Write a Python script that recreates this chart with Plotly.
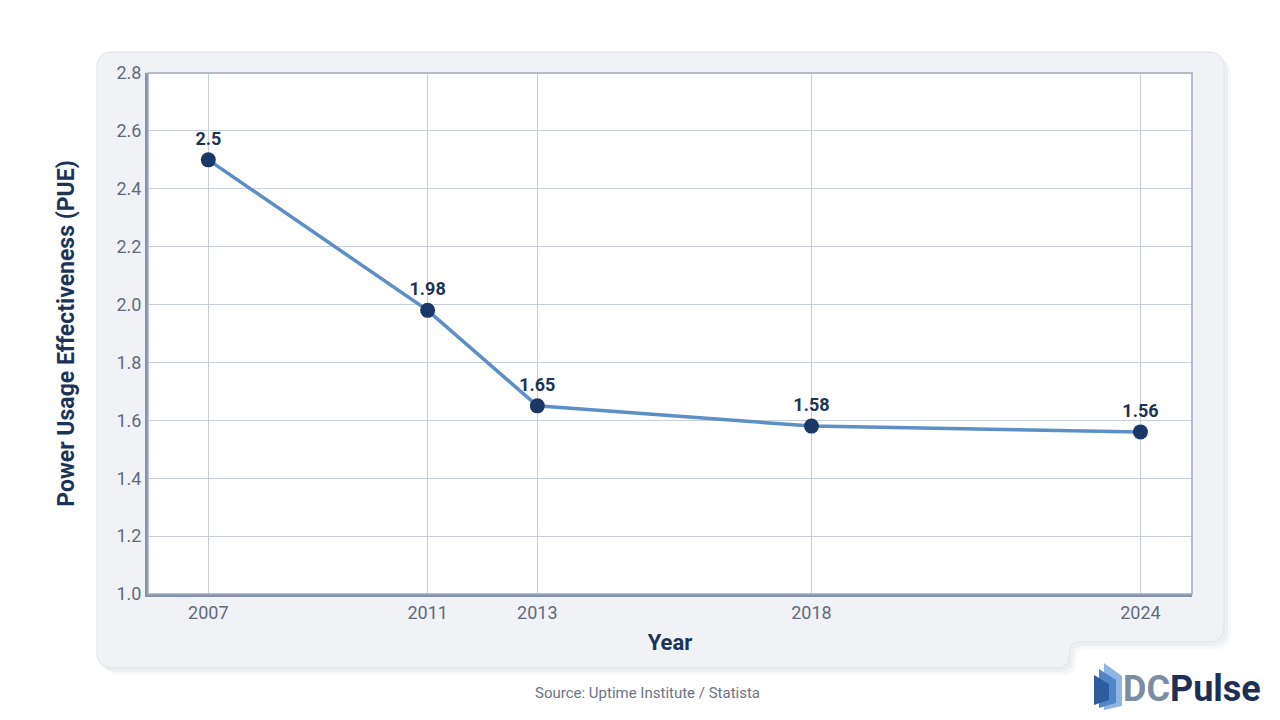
import math
import plotly.graph_objects as go

years = [2007, 2011, 2013, 2018, 2024]
pue = [2.5, 1.98, 1.65, 1.58, 1.56]
labels = ["2.5", "1.98", "1.65", "1.58", "1.56"]
y_ticks = [1.0, 1.2, 1.4, 1.6, 1.8, 2.0, 2.2, 2.4, 2.6, 2.8]

W, H = 1280, 720
L, R, T, B = 148, 1192, 73, 594

def px(x):
    return (x - L) / (R - L)

def py(y):
    return (B - y) / (B - T)

def path(points, close=True):
    s = "M " + " L ".join(f"{px(x):.5f},{py(y):.5f}" for x, y in points)
    return s + (" Z" if close else "")

def card_path(dx=0, dy=0):
    r = 14
    pts = []
    def arc(cx, cy, a0, a1, rad=r, n=8):
        out = []
        for i in range(n + 1):
            a = math.radians(a0 + (a1 - a0) * i / n)
            out.append((cx + rad * math.cos(a) + dx, cy + rad * math.sin(a) + dy))
        return out
    pts += arc(97 + r, 52 + r, 180, 270)
    pts += arc(1224 - r, 52 + r, 270, 360)
    pts += arc(1224 - r, 642 - r, 0, 90)
    pts += [(1095 + dx, 642 + dy)]
    pts += arc(1080, 655, 270, 225, rad=13, n=4)
    pts += [(1068 + dx, 664 + dy)]
    pts += arc(1058, 668 - 10, 45, 90, rad=10, n=4)
    pts += arc(97 + r, 668 - r, 90, 180)
    return path(pts)

fig = go.Figure()
fig.add_trace(go.Scatter(
    x=years, y=pue, mode="lines+markers+text",
    text=labels, textposition="top center",
    textfont=dict(family="Roboto", size=18, color="#1c3357", weight="bold"),
    line=dict(color="#5b8fc6", width=3.5),
    marker=dict(color="#1a3866", size=15),
    hoverinfo="skip", cliponaxis=False,
))

shapes = []
for op, off in [(0.04, 7), (0.05, 4)]:
    shapes.append(dict(type="path", xref="paper", yref="paper", path=card_path(off, off),
                       fillcolor=f"rgba(60,70,90,{op})", line=dict(width=0), layer="below"))
shapes.append(dict(type="path", xref="paper", yref="paper", path=card_path(),
                   fillcolor="#f1f2f5", line=dict(color="#dfe2e8", width=1), layer="below"))
# white plot area
shapes.append(dict(type="rect", xref="paper", yref="paper", x0=0, x1=1, y0=0, y1=1,
                   fillcolor="#ffffff", line=dict(width=0), layer="below"))
# plot border top/right
shapes.append(dict(type="rect", xref="paper", yref="paper", x0=0, x1=1, y0=0, y1=1,
                   line=dict(color="#9eabbf", width=1.5), layer="above"))
# logo icon
shapes.append(dict(type="path", xref="paper", yref="paper",
                   path=path([(1104, 663), (1122, 676), (1122, 706), (1104, 710)]),
                   fillcolor="#8fb6e2", line=dict(width=0), layer="above"))
shapes.append(dict(type="path", xref="paper", yref="paper",
                   path=path([(1099, 669), (1116, 680), (1116, 703), (1099, 708)]),
                   fillcolor="#4f86c8", line=dict(width=0), layer="above"))
shapes.append(dict(type="path", xref="paper", yref="paper",
                   path=path([(1094, 675), (1109, 684), (1109, 700), (1094, 705)]),
                   fillcolor="#2d5d9e", line=dict(width=0), layer="above"))

annotations = [
    dict(text="Source: Uptime Institute / Statista", xref="paper", yref="paper",
         x=px(647), y=py(693), xanchor="center", yanchor="middle", showarrow=False,
         font=dict(family="Roboto", size=15, color="#6b7487")),
    dict(text="<span style='color:#7d8ba3'>DC</span><span style='color:#1e2f55'>Pulse</span>",
         xref="paper", yref="paper", x=px(1121), y=py(689), xanchor="left", yanchor="middle",
         showarrow=False, font=dict(family="Roboto", size=36, weight="bold")),
]

fig.update_layout(
    width=W, height=H,
    margin=dict(l=L, r=W - R, t=T, b=H - B),
    paper_bgcolor="#ffffff", plot_bgcolor="#ffffff",
    showlegend=False,
    shapes=shapes, annotations=annotations,
    font=dict(family="Roboto", color="#5f6a7d"),
)
fig.update_xaxes(
    range=[2005.9, 2024.94], tickvals=years, ticktext=[str(y) for y in years],
    showgrid=True, gridcolor="#c6d0dd", gridwidth=1,
    showline=True, linecolor="#8593aa", linewidth=3,
    ticks="", tickfont=dict(size=18, color="#5f6a7d"),
    title=dict(text="<b>Year</b>", font=dict(size=22, color="#1c3357"), standoff=14),
    zeroline=False,
)
fig.update_yaxes(
    range=[1.0, 2.8], tickvals=y_ticks, ticktext=[f"{v:.1f}" for v in y_ticks],
    showgrid=True, gridcolor="#c6d0dd", gridwidth=1,
    showline=True, linecolor="#8593aa", linewidth=3,
    ticks="", tickfont=dict(size=18, color="#5f6a7d"),
    title=dict(text="<b>Power Usage Effectiveness (PUE)</b>", font=dict(size=23, color="#1c3357"), standoff=36),
    zeroline=False,
)

fig.write_html("out.html")
